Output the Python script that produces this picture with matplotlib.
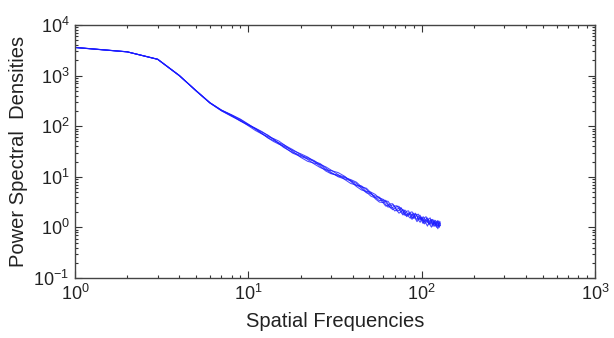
import matplotlib
matplotlib.use("Agg")
import matplotlib.pyplot as plt
from matplotlib.ticker import LogLocator, LogFormatterMathtext, NullFormatter

plt.rcParams['font.family'] = ['Liberation Sans', 'DejaVu Sans']
plt.rcParams['mathtext.fontset'] = 'custom'
plt.rcParams['mathtext.rm'] = 'Liberation Sans'
plt.rcParams['mathtext.it'] = 'Liberation Sans:italic'
plt.rcParams['mathtext.bf'] = 'Liberation Sans:bold'

freqs = [1, 2, 3, 4, 5, 6,
         7, 8, 9, 10, 11, 12, 13, 14, 15, 16,
         18, 20, 22, 24, 26, 28, 30,
         33, 36, 39, 42, 45, 48, 51, 54, 57,
         60, 62, 64, 66, 68, 70, 72, 74, 76, 78, 80, 82, 84, 86, 88, 90, 92, 94, 96, 98,
         100, 102, 104, 106, 108, 110, 112, 114, 116, 118, 120, 122, 124, 126, 128]

psd_a = [3600, 2950, 2100, 1000, 500, 290,
         209, 167, 135, 108, 87, 70.8, 58.9, 51.8, 47, 43,
         34.6, 27.6, 22, 17.9, 15.2, 13.7, 13.3,
         12.1, 10.2, 8.1, 6.44, 5.49, 5.14, 4.97, 4.48, 3.78,
         3.04, 2.64, 2.71, 2.92, 2.93, 2.57, 2.16, 1.91, 2.04, 2.26, 2.03, 1.71, 1.79, 1.98, 2.03, 1.75, 1.49, 1.30, 1.46, 1.62,
         1.42, 1.63, 1.46, 1.20, 1.06, 1.24, 1.41, 1.30, 1.05, 1.28, 1.38, 1.09, 0.94, 1.17, 1.22]
psd_b = [3620, 2960, 2110, 1010, 495, 288,
         201, 157, 127, 107, 91, 78, 65, 54.5, 45, 38,
         30.4, 26.5, 23.8, 20.9, 17.2, 13.9, 11.8,
         10.3, 9.6, 8.8, 7.84, 6.34, 4.98, 4.14, 3.84, 3.82,
         3.58, 3.18, 2.74, 2.43, 2.47, 2.65, 2.68, 2.34, 1.98, 1.76, 1.89, 2.09, 2.12, 1.81, 1.55, 1.60, 1.81, 1.67, 1.39, 1.26,
         1.49, 1.31, 1.56, 1.63, 1.36, 1.14, 1.23, 1.44, 1.31, 1.05, 1.14, 1.33, 1.23, 1.05, 1.18]
psd_c = [3580, 2940, 2090, 990, 505, 292,
         207, 168, 138, 110, 89, 71.5, 58.3, 49.7, 44.2, 40.6,
         33.3, 28.6, 24.6, 20, 16, 13, 11.5,
         10.8, 9.96, 8.42, 6.72, 6.28, 5.94, 4.83, 3.68, 3.17,
         3.10, 3.30, 3.28, 2.81, 2.40, 2.11, 2.26, 2.43, 2.45, 2.09, 1.73, 1.79, 1.94, 1.68, 1.44, 1.70, 1.91, 1.71, 1.45, 1.47,
         1.61, 1.25, 1.31, 1.47, 1.54, 1.35, 1.10, 1.01, 1.29, 1.39, 1.15, 1.00, 1.27, 1.33, 1.09]
psd_d = [3610, 2955, 2105, 1005, 498, 287,
         203, 159, 130, 102, 82, 70, 62, 56.7, 50.8, 43.5,
         32, 24.4, 20.2, 18.6, 17.5, 15.7, 13.6,
         11, 8.84, 7.37, 6.86, 6.59, 5.62, 4.51, 4.16, 3.96,
         3.33, 2.82, 2.51, 2.65, 2.81, 2.55, 2.12, 2.16, 2.41, 2.17, 1.85, 1.63, 1.76, 1.91, 1.75, 1.92, 1.56, 1.42, 1.66, 1.74,
         1.34, 1.19, 1.36, 1.41, 1.25, 1.48, 1.54, 1.23, 1.12, 1.29, 1.06, 1.24, 1.37, 0.99, 1.11]
psd_e = [3590, 2945, 2095, 995, 502, 293,
         205, 164, 126, 104, 90, 76, 66.3, 55.6, 46, 39.4,
         29.4, 25.2, 22.7, 20.1, 18.2, 14.9, 12.3,
         10, 9.02, 8.42, 7.42, 5.86, 4.82, 4.69, 3.92, 3.38,
         3.46, 3.42, 2.91, 2.48, 2.24, 2.40, 2.59, 2.61, 2.15, 1.85, 2.21, 1.98, 1.65, 1.52, 1.82, 1.50, 1.59, 1.80, 1.82, 1.41,
         1.55, 1.48, 1.17, 1.28, 1.46, 1.22, 1.15, 1.36, 1.44, 1.15, 1.27, 1.14, 1.06, 1.26, 1.28]

series = [psd_a, psd_b, psd_c, psd_d, psd_e]

fig = plt.figure(figsize=(6.14, 3.38), dpi=100)
ax = fig.add_axes([75 / 614, 1 - 278 / 338, 520 / 614, 253 / 338])

for s in series:
    ax.plot(freqs, s, color='#1a1aff', lw=0.75, alpha=0.8)

ax.set_xscale('log')
ax.set_yscale('log')
ax.set_xlim(1, 1000)
ax.set_ylim(0.1, 10000)

ax.xaxis.set_major_locator(LogLocator(base=10, numticks=10))
ax.yaxis.set_major_locator(LogLocator(base=10, numticks=10))
ax.xaxis.set_minor_locator(LogLocator(base=10, subs=range(2, 10), numticks=20))
ax.yaxis.set_minor_locator(LogLocator(base=10, subs=range(2, 10), numticks=20))
ax.xaxis.set_major_formatter(LogFormatterMathtext())
ax.yaxis.set_major_formatter(LogFormatterMathtext())
ax.xaxis.set_minor_formatter(NullFormatter())
ax.yaxis.set_minor_formatter(NullFormatter())

ax.tick_params(which='both', direction='in', top=True, right=True, colors='#333333',
               labelcolor='#222222', width=0.8)
ax.tick_params(which='major', length=5, labelsize=13, pad=4)
ax.tick_params(which='minor', length=2.5)
for sp in ax.spines.values():
    sp.set_color('#444444')
    sp.set_linewidth(1.0)

ax.set_xlabel('Spatial Frequencies', fontsize=14.5, color='#222222', labelpad=6)
ax.set_ylabel('Power Spectral  Densities', fontsize=14.5, color='#222222', labelpad=4)

fig.savefig('out.png', dpi=100)
